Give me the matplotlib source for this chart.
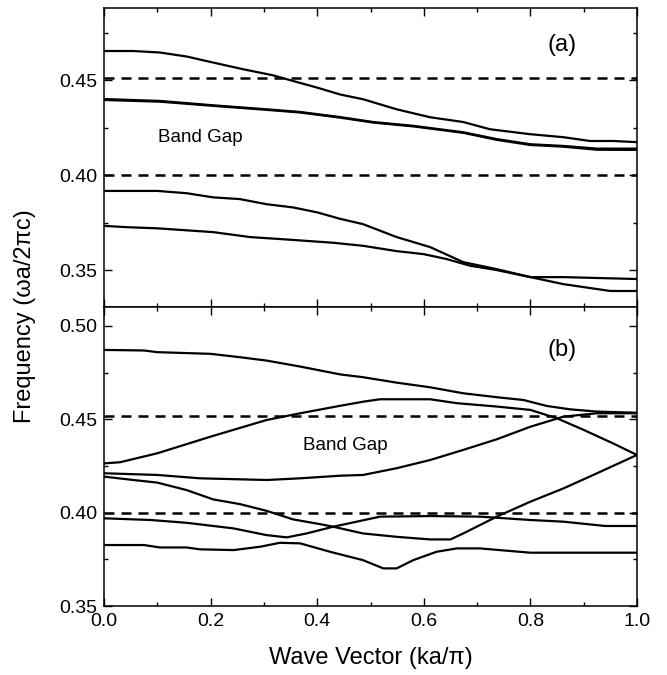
import matplotlib.pyplot as plt
from matplotlib.ticker import MultipleLocator

plt.rcParams['font.family'] = ['Liberation Sans', 'DejaVu Sans']

# ---- panel (a) bands ----
a1_x = [0.0, 0.055, 0.105, 0.155, 0.205, 0.261, 0.317, 0.355, 0.40, 0.443, 0.486,
        0.549, 0.612, 0.674, 0.724, 0.799, 0.862, 0.912, 0.955, 1.0]
a1_y = [0.4654, 0.4654, 0.4646, 0.4625, 0.4593, 0.4558, 0.4526, 0.4496, 0.4461, 0.4425, 0.4400,
        0.4347, 0.4305, 0.4280, 0.4242, 0.4216, 0.4200, 0.4180, 0.4180, 0.4174]

a2_x = [0.0, 0.105, 0.205, 0.305, 0.368, 0.443, 0.505, 0.58, 0.674, 0.737, 0.80, 0.862, 0.925, 1.0]
a2_y = [0.4401, 0.4391, 0.4368, 0.4347, 0.4333, 0.4306, 0.4280, 0.4260, 0.4226, 0.4190, 0.4163,
        0.4154, 0.4140, 0.4140]
a3_y = [0.4396, 0.4387, 0.4365, 0.4344, 0.4330, 0.4303, 0.4277, 0.4257, 0.4223, 0.4186, 0.4159,
        0.4150, 0.4134, 0.4133]

a4_x = [0.0, 0.10, 0.155, 0.205, 0.255, 0.305, 0.355, 0.40, 0.443, 0.486, 0.549, 0.612,
        0.674, 0.737, 0.80, 0.862, 0.95, 1.0]
a4_y = [0.3917, 0.3917, 0.3905, 0.3883, 0.3874, 0.3847, 0.3830, 0.3804, 0.3770, 0.3742, 0.3674,
        0.3621, 0.3542, 0.3505, 0.3463, 0.3426, 0.3390, 0.3390]

a5_x = [0.0, 0.043, 0.10, 0.205, 0.274, 0.349, 0.43, 0.486, 0.549, 0.60, 0.643, 0.687,
        0.737, 0.80, 0.862, 1.0]
a5_y = [0.3733, 0.3726, 0.3720, 0.3700, 0.3674, 0.3660, 0.3644, 0.3628, 0.3600, 0.3584, 0.3558,
        0.3523, 0.3500, 0.3463, 0.3463, 0.3453]

# ---- panel (b) bands ----
b1_x = [0.0, 0.075, 0.10, 0.20, 0.255, 0.305, 0.368, 0.443, 0.486, 0.549, 0.612, 0.674,
        0.737, 0.787, 0.831, 0.875, 0.925, 1.0]
b1_y = [0.4871, 0.4868, 0.4859, 0.4850, 0.4832, 0.4814, 0.4782, 0.4740, 0.4725, 0.4696, 0.4671,
        0.4639, 0.4618, 0.4603, 0.4571, 0.4553, 0.4541, 0.4535]

b2_x = [0.0, 0.03, 0.10, 0.20, 0.305, 0.368, 0.443, 0.486, 0.518, 0.612, 0.662, 0.737,
        0.80, 0.85, 0.90, 0.955, 1.0]
b2_y = [0.4264, 0.4270, 0.4318, 0.4407, 0.4496, 0.4532, 0.4572, 0.4594, 0.4607, 0.4607, 0.4586,
        0.4568, 0.4550, 0.4505, 0.4443, 0.4371, 0.4309]

b3_x = [0.0, 0.10, 0.18, 0.305, 0.368, 0.443, 0.486, 0.549, 0.612, 0.674, 0.737, 0.80,
        0.862, 0.925, 1.0]
b3_y = [0.4211, 0.4202, 0.4184, 0.4175, 0.4184, 0.4198, 0.4202, 0.4238, 0.4282, 0.4336, 0.4393,
        0.4460, 0.4514, 0.4532, 0.4532]

b4_x = [0.0, 0.055, 0.10, 0.155, 0.205, 0.255, 0.305, 0.355, 0.405, 0.43, 0.486, 0.549,
        0.612, 0.65, 0.674, 0.737, 0.80, 0.862, 0.925, 1.0]
b4_y = [0.4193, 0.4175, 0.4161, 0.4121, 0.4071, 0.4046, 0.4010, 0.3964, 0.3939, 0.3925, 0.3889,
        0.3871, 0.3857, 0.3857, 0.3889, 0.3979, 0.4059, 0.4130, 0.4211, 0.4309]

b5_x = [0.0, 0.087, 0.155, 0.243, 0.305, 0.343, 0.38, 0.43, 0.518, 0.612, 0.705, 0.80,
        0.862, 0.94, 1.0]
b5_y = [0.3970, 0.3961, 0.3946, 0.3916, 0.3880, 0.3868, 0.3889, 0.3925, 0.3979, 0.3982, 0.3979,
        0.3961, 0.3952, 0.3929, 0.3929]

b6_x = [0.0, 0.075, 0.105, 0.155, 0.18, 0.243, 0.293, 0.33, 0.368, 0.424, 0.486, 0.524,
        0.549, 0.58, 0.624, 0.662, 0.705, 0.80, 1.0]
b6_y = [0.3827, 0.3827, 0.3814, 0.3814, 0.3804, 0.3800, 0.3818, 0.3839, 0.3836, 0.3791, 0.3746,
        0.3702, 0.3702, 0.3746, 0.3791, 0.3809, 0.3809, 0.3786, 0.3786]

gap_a = [0.451, 0.400]
gap_b = [0.452, 0.400]

x_ticks = [0.0, 0.2, 0.4, 0.6, 0.8, 1.0]
x_ticklabels = ['0.0', '0.2', '0.4', '0.6', '0.8', '1.0']

fig = plt.figure(figsize=(6.67, 6.75), dpi=100)
ax_a = fig.add_axes([0.156, 0.545, 0.799, 0.443])
ax_b = fig.add_axes([0.156, 0.102, 0.799, 0.443])

lw = 1.6
for x, y in [(a1_x, a1_y), (a2_x, a2_y), (a2_x, a3_y), (a4_x, a4_y), (a5_x, a5_y)]:
    ax_a.plot(x, y, color='black', lw=lw)
for x, y in [(b1_x, b1_y), (b2_x, b2_y), (b3_x, b3_y), (b4_x, b4_y), (b5_x, b5_y), (b6_x, b6_y)]:
    ax_b.plot(x, y, color='black', lw=lw)

for g in gap_a:
    ax_a.axhline(g, color='black', lw=1.8, linestyle=(0, (4, 2.8)))
for g in gap_b:
    ax_b.axhline(g, color='black', lw=1.8, linestyle=(0, (4, 2.8)))

ax_a.text(0.86, 0.4685, '(a)', fontsize=17, ha='center', va='center')
ax_b.text(0.86, 0.4870, '(b)', fontsize=17, ha='center', va='center')
ax_a.text(0.18, 0.4200, 'Band Gap', fontsize=13.5, ha='center', va='center')
ax_b.text(0.452, 0.4362, 'Band Gap', fontsize=13.5, ha='center', va='center')

ax_a.set_ylim(0.3305, 0.488)
ax_b.set_ylim(0.35, 0.51)
ax_a.set_yticks([0.35, 0.40, 0.45])
ax_b.set_yticks([0.35, 0.40, 0.45, 0.50])
ax_a.set_yticklabels(['0.35', '0.40', '0.45'])
ax_b.set_yticklabels(['0.35', '0.40', '0.45', '0.50'])

for ax in (ax_a, ax_b):
    ax.set_xlim(0, 1)
    ax.set_xticks(x_ticks)
    ax.xaxis.set_minor_locator(MultipleLocator(0.1))
    ax.yaxis.set_minor_locator(MultipleLocator(0.025))
    ax.tick_params(which='both', direction='in', top=True, right=True, labelsize=14,
                   width=1.0, colors='black')
    ax.tick_params(which='major', length=5.5, pad=5)
    ax.tick_params(which='minor', length=3)
    for s in ax.spines.values():
        s.set_linewidth(1.1)

ax_a.tick_params(labelbottom=False)
ax_b.set_xticklabels(x_ticklabels)
ax_b.set_xlabel('Wave Vector (ka/\u03c0)', fontsize=17, labelpad=12)
fig.text(0.037, 0.531, 'Frequency (\u03c9a/2\u03c0c)', fontsize=17, rotation=90,
         ha='center', va='center')

fig.savefig('out.png', dpi=100)
